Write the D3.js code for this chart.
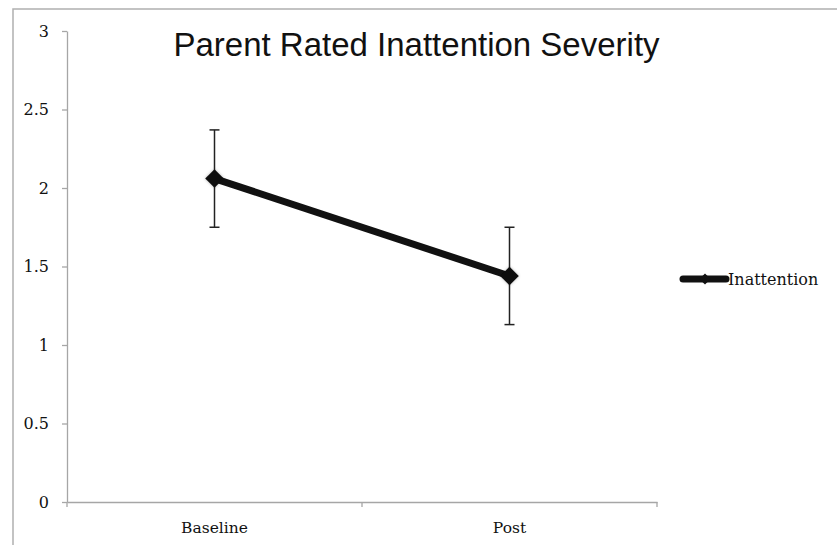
<!DOCTYPE html>
<html>
<head>
<meta charset="utf-8">
<script src="https://cdn.jsdelivr.net/npm/d3@7"></script>
<style>
  html, body { margin: 0; padding: 0; background: #fff; }
  svg { display: block; }
</style>
</head>
<body>
<svg id="chart" width="837" height="545"></svg>
<script>
const categories = ["Baseline", "Post"];
const seriesName = "Inattention";
const means = [2.06, 1.44];
const errors = [0.31, 0.31];
const yTicks = [0, 0.5, 1, 1.5, 2, 2.5, 3];
const yTickLabels = ["0", "0.5", "1", "1.5", "2", "2.5", "3"];
const title = "Parent Rated Inattention Severity";

const data = categories.map((c, i) => ({ cat: c, v: means[i], e: errors[i] }));

const svg = d3.select("#chart");
const W = 837, H = 545;
const axisColor = "#a6a6a6";
const serif = "'DejaVu Serif', 'Liberation Serif', serif";

// outer frame
svg.append("rect")
  .attr("x", 13).attr("y", 9)
  .attr("width", W).attr("height", H)
  .attr("fill", "none").attr("stroke", "#b0b0b0").attr("stroke-width", 1.5);

const x = d3.scaleBand().domain(categories).range([67, 657]).paddingInner(0).paddingOuter(0);
const y = d3.scaleLinear().domain([0, 3]).range([502, 31]);

// y axis
const yAxis = svg.append("g")
  .attr("transform", "translate(67,0)")
  .call(d3.axisLeft(y).tickValues(yTicks).tickFormat((d, i) => yTickLabels[i])
    .tickSize(5).tickSizeOuter(0).tickPadding(13));
yAxis.select(".domain").attr("stroke", axisColor).attr("stroke-width", 1.3);
yAxis.selectAll(".tick line").attr("stroke", axisColor).attr("stroke-width", 1.3);
yAxis.selectAll(".tick text").attr("font-family", serif).attr("font-size", 16).attr("fill", "#111");

// x axis (labels at band centres, ticks at band boundaries)
const xAxis = svg.append("g")
  .attr("transform", `translate(0,${y(0)})`)
  .call(d3.axisBottom(x).tickSize(0).tickSizeOuter(0).tickPadding(20));
xAxis.select(".domain").attr("stroke", axisColor).attr("stroke-width", 1.3);
xAxis.selectAll(".tick text").attr("font-family", serif).attr("font-size", 15.5).attr("fill", "#111");
const boundaries = categories.map(c => x(c)).concat([x.range()[1]]);
xAxis.selectAll(".bound").data(boundaries).enter().append("line")
  .attr("class", "bound")
  .attr("x1", d => d).attr("x2", d => d)
  .attr("y1", 0).attr("y2", 5)
  .attr("stroke", axisColor).attr("stroke-width", 1.3);

// title
svg.append("text")
  .attr("x", 416.5).attr("y", 56)
  .attr("text-anchor", "middle")
  .attr("font-family", "'Liberation Sans', Arial, sans-serif")
  .attr("font-size", 33)
  .attr("fill", "#111")
  .text(title);

const cx = d => x(d.cat) + x.bandwidth() / 2;

// soft shadow filter for markers
const defs = svg.append("defs");
const f = defs.append("filter").attr("id", "soft").attr("x", "-50%").attr("y", "-50%").attr("width", "200%").attr("height", "200%");
f.append("feGaussianBlur").attr("in", "SourceAlpha").attr("stdDeviation", 1.6).attr("result", "b");
f.append("feFlood").attr("flood-color", "#000").attr("flood-opacity", 0.3);
f.append("feComposite").attr("in2", "b").attr("operator", "in").attr("result", "s");
const fm = f.append("feMerge");
fm.append("feMergeNode").attr("in", "s");
fm.append("feMergeNode").attr("in", "SourceGraphic");

// error bars
const eb = svg.append("g").attr("stroke", "#222").attr("stroke-width", 1.5);
data.forEach(d => {
  const X = cx(d);
  eb.append("line").attr("x1", X).attr("x2", X).attr("y1", y(d.v + d.e)).attr("y2", y(d.v - d.e));
  eb.append("line").attr("x1", X - 5).attr("x2", X + 5).attr("y1", y(d.v + d.e)).attr("y2", y(d.v + d.e));
  eb.append("line").attr("x1", X - 5).attr("x2", X + 5).attr("y1", y(d.v - d.e)).attr("y2", y(d.v - d.e));
});

// line
const line = d3.line().x(cx).y(d => y(d.v));
svg.append("path").datum(data)
  .attr("d", line)
  .attr("fill", "none").attr("stroke", "#111").attr("stroke-width", 7)
  .attr("stroke-linecap", "butt");

// markers
const diamond = d3.symbol().type(d3.symbolDiamond2).size(220);
svg.selectAll(".mk").data(data).enter().append("path")
  .attr("class", "mk")
  .attr("transform", d => `translate(${cx(d)},${y(d.v)})`)
  .attr("d", diamond)
  .attr("fill", "#111")
  .attr("filter", "url(#soft)");

// legend
const lg = svg.append("g").attr("transform", "translate(683,279)");
lg.append("line").attr("x1", 0).attr("x2", 43).attr("y1", 0).attr("y2", 0)
  .attr("stroke", "#111").attr("stroke-width", 7).attr("stroke-linecap", "round");
lg.append("path").attr("transform", "translate(22,0)")
  .attr("d", d3.symbol().type(d3.symbolDiamond2).size(80)).attr("fill", "#111");
lg.append("text").attr("x", 45).attr("y", 6)
  .attr("font-family", serif).attr("font-size", 16).attr("fill", "#111")
  .text(seriesName);
</script>
</body>
</html>
